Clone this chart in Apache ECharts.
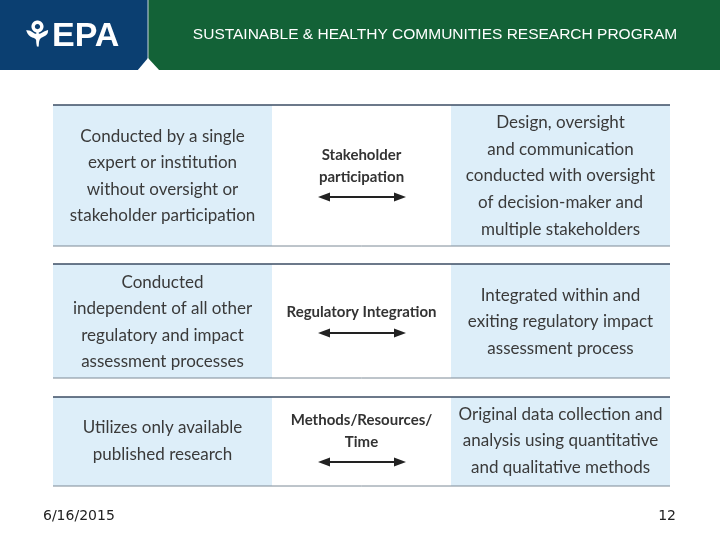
<!DOCTYPE html>
<html><head><meta charset="utf-8">
<script src="https://cdn.jsdelivr.net/npm/echarts@6/dist/echarts.min.js"></script>
<style>html,body{margin:0;padding:0;background:#fff}#c{width:720px;height:540px}</style>
</head><body><div id="c"></div>
<script>
const headerTitle = "SUSTAINABLE & HEALTHY COMMUNITIES RESEARCH PROGRAM";
const leftTexts = [
  ["Conducted by a single","expert or institution","without oversight or","stakeholder participation"],
  ["Conducted","independent of all other","regulatory and impact","assessment processes"],
  ["Utilizes only available","published research"]
];
const centerLabels = [
  ["Stakeholder","participation"],
  ["Regulatory Integration"],
  ["Methods/Resources/","Time"]
];
const rightTexts = [
  ["Design, oversight","and communication","conducted with oversight","of decision-maker and","multiple stakeholders"],
  ["Integrated within and","exiting regulatory impact","assessment process"],
  ["Original data collection and","analysis using quantitative","and qualitative methods"]
];
const footerDate = "6/16/2015";
const pageNumber = "12";

const rows = [[105,246],[264,378],[397,486]];
const colL=[53,272], colM=[272,451], colR=[451,670];
const g = [];
g.push({type:'rect',shape:{x:0,y:0,width:148,height:70},style:{fill:'#0b3f71'}});
g.push({type:'rect',shape:{x:148,y:0,width:572,height:70},style:{fill:'#136237'}});
g.push({type:'line',shape:{x1:148,y1:0,x2:148,y2:70},style:{stroke:'#c8d4dc',lineWidth:1}});
g.push({type:'polygon',shape:{points:[[137,71],[148,58],[160,71]]},style:{fill:'#fff'}});
g.push({type:'text',x:22,y:37,style:{text:'⚘EPA',fill:'#fff',font:'bold 34px "Liberation Sans"',verticalAlign:'middle'}});
g.push({type:'text',x:435,y:35,style:{text:headerTitle,fill:'#fff',font:'15.5px "Liberation Sans"',align:'center',verticalAlign:'middle'}});

function block(lines,cx,cy,font,color,lh){
  const n=lines.length;
  lines.forEach((t,i)=>{
    g.push({type:'text',x:cx,y:cy+(i-(n-1)/2)*lh,style:{text:t,fill:color,font:font,align:'center',verticalAlign:'middle'}});
  });
}
function arrow(x1,x2,y){
  g.push({type:'line',shape:{x1:x1+6,y1:y,x2:x2-6,y2:y},style:{stroke:'#222',lineWidth:2}});
  g.push({type:'polygon',shape:{points:[[x1,y],[x1+12,y-4.5],[x1+12,y+4.5]]},style:{fill:'#222'}});
  g.push({type:'polygon',shape:{points:[[x2,y],[x2-12,y-4.5],[x2-12,y+4.5]]},style:{fill:'#222'}});
}
const cyL=[176,322,441], cyR=[176,322,441], cyC=[166,312,431], arY=[197,333,462];
rows.forEach((r,i)=>{
  const [t,b]=r;
  g.push({type:'rect',shape:{x:colL[0],y:t,width:colL[1]-colL[0],height:b-t},style:{fill:'#ddeef9'}});
  g.push({type:'rect',shape:{x:colR[0],y:t,width:colR[1]-colR[0],height:b-t},style:{fill:'#ddeef9'}});
  g.push({type:'line',shape:{x1:53,y1:t,x2:670,y2:t},style:{stroke:'#3b4d63',lineWidth:1.3}});
  g.push({type:'line',shape:{x1:53,y1:b,x2:670,y2:b},style:{stroke:'#7d8a96',lineWidth:1}});
  block(leftTexts[i],(colL[0]+colL[1])/2,cyL[i],'17px Lato','#3a3a3a',26.6);
  block(rightTexts[i],(colR[0]+colR[1])/2,cyR[i],'17px Lato','#3a3a3a',26.6);
  block(centerLabels[i],(colM[0]+colM[1])/2,cyC[i],'bold 15px Lato','#333',21.5);
  arrow(318,406,arY[i]);
});
g.push({type:'text',x:43,y:516,style:{text:footerDate,fill:'#222',font:'14px "DejaVu Sans"',verticalAlign:'middle'}});
g.push({type:'text',x:676,y:516,style:{text:pageNumber,fill:'#222',font:'14px "DejaVu Sans"',align:'right',verticalAlign:'middle'}});

const chart = echarts.init(document.getElementById('c'));
chart.setOption({animation:false,graphic:{elements:g}});
</script></body></html>
